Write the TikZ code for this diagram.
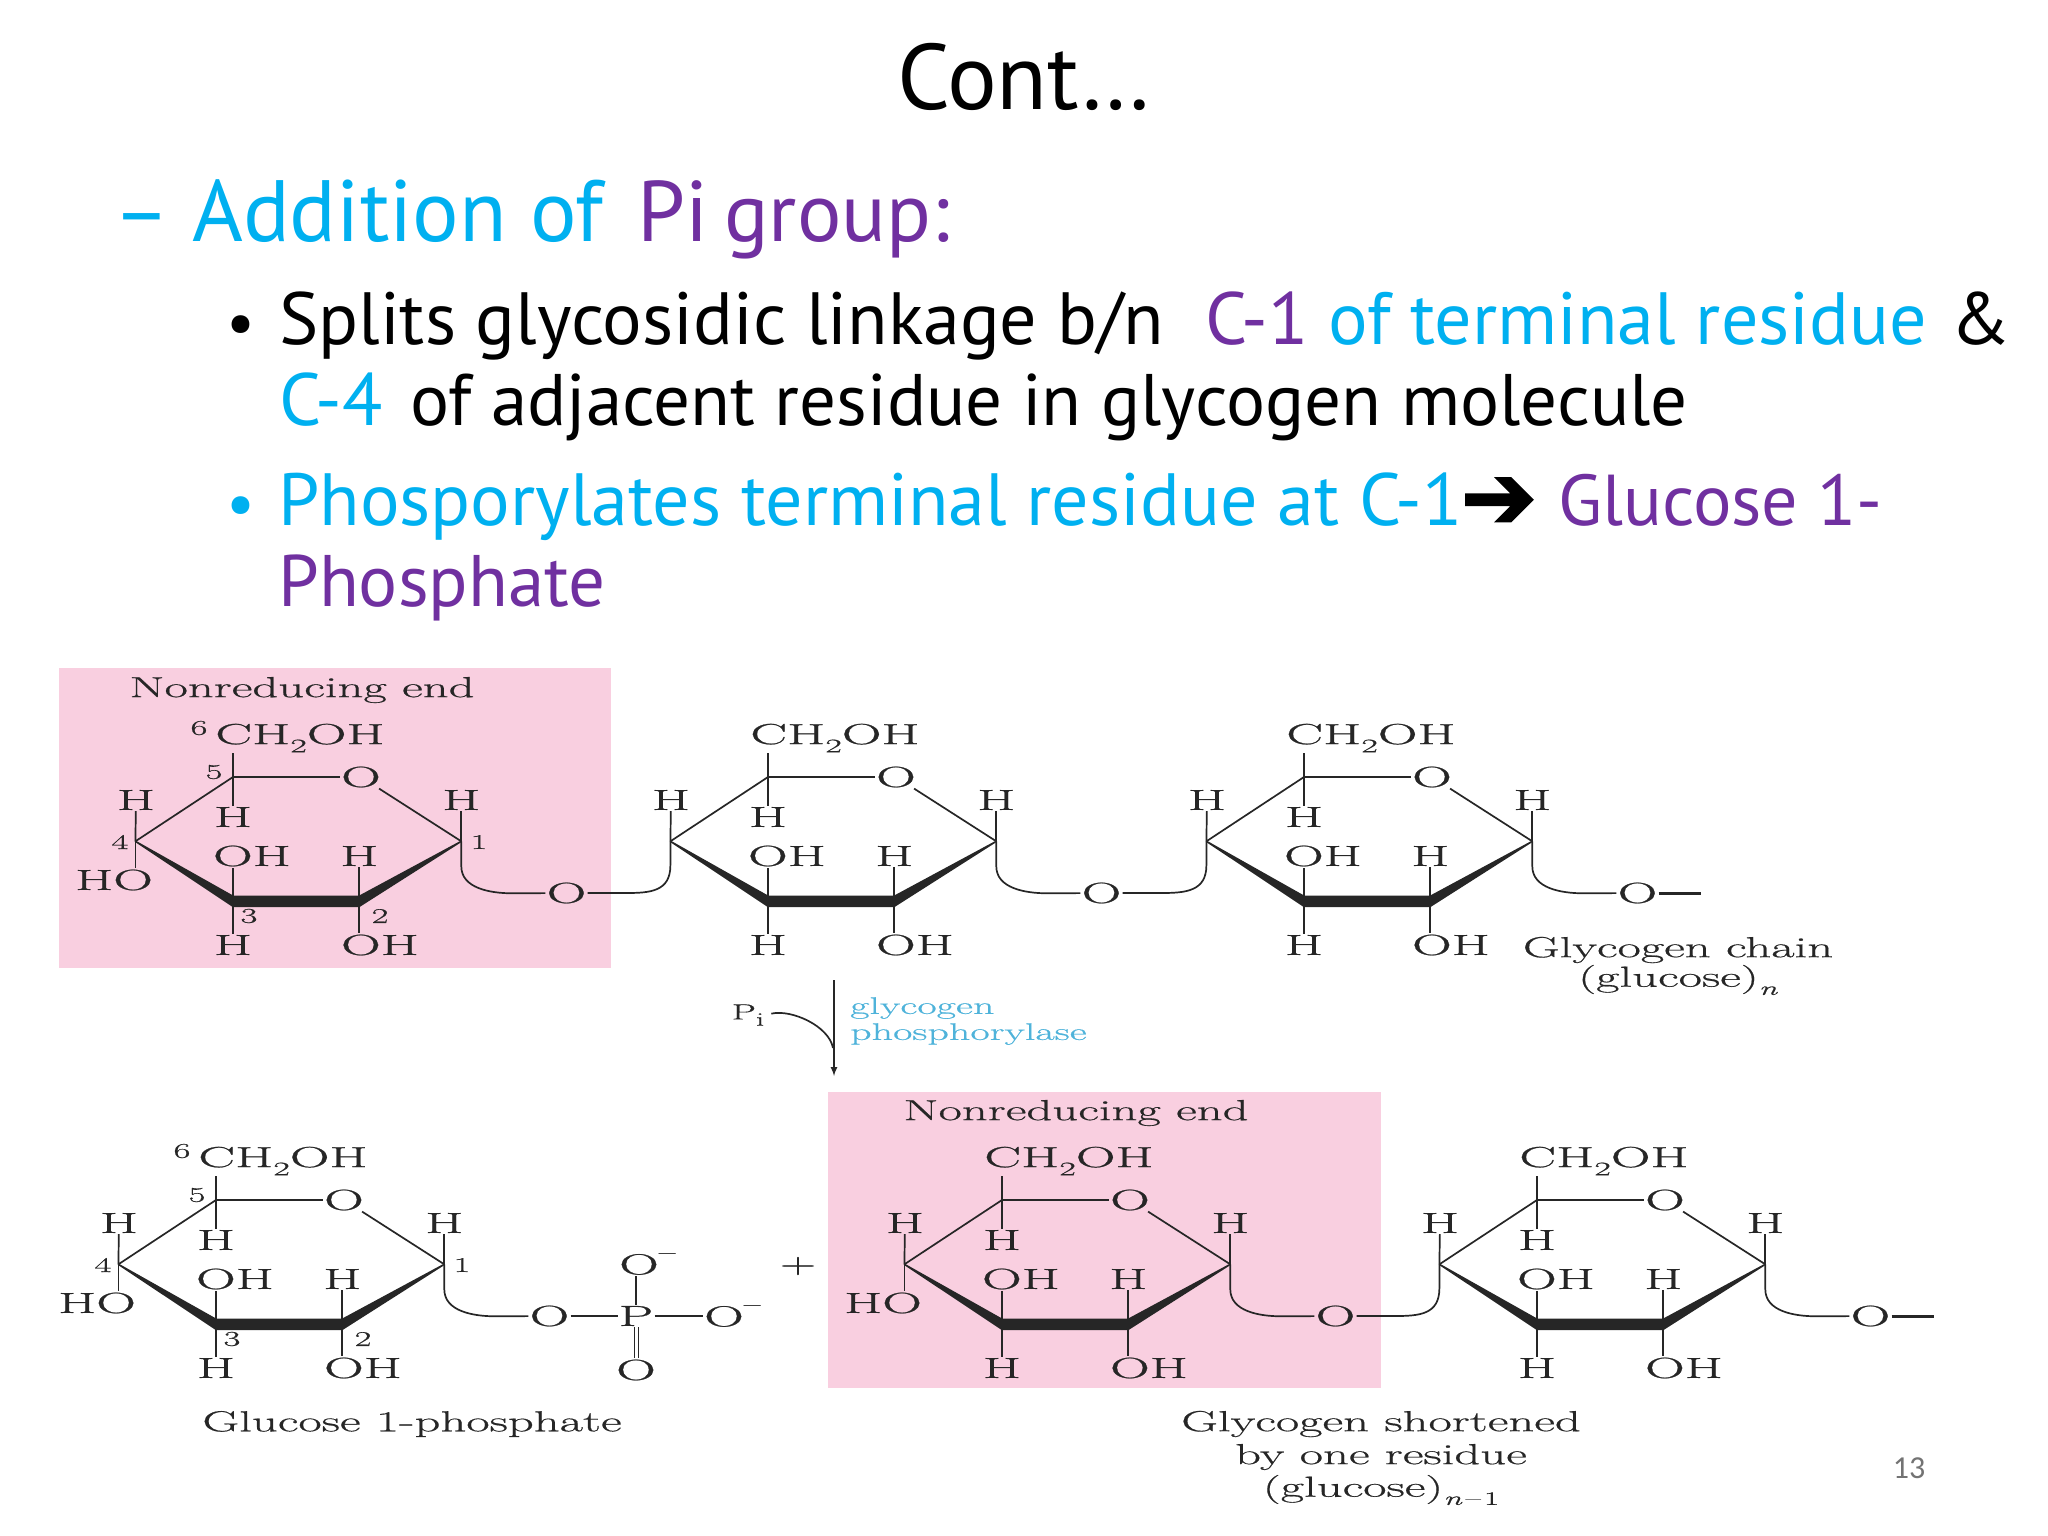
\documentclass[tikz,border=0pt]{standalone}
\usepackage{fontspec}
\setmainfont{PT Sans}
\newfontfamily\chemfont[FakeStretch=1.75,FakeBold=0.6]{Latin Modern Roman}
\newfontfamily\atomfont[FakeStretch=1.9,FakeBold=0.8]{Latin Modern Roman}
\newfontfamily\arrowfont[FakeBold=2.5]{DejaVu Sans}
\newfontfamily\numfont{Carlito}
\usepackage{xcolor}
\usetikzlibrary{calc}
\definecolor{SkyText}{HTML}{00B0F0}
\definecolor{PurpleText}{HTML}{7030A0}
\definecolor{PinkBox}{HTML}{F9CFE0}
\definecolor{EnzymeText}{HTML}{4FB3DA}
\newcommand{\lowtext}[1]{\raisebox{-0.28em}{\fontsize{19}{19}\selectfont #1}}
\newcommand{\hightext}[1]{\raisebox{0.55em}{\fontsize{19}{19}\selectfont #1}}
\tikzset{%Global config
	>=latex,
	%Styles
	Head/.style={
		anchor=base west,
		inner sep=0pt,
		font=\fontsize{74}{74}\selectfont,
	},
	Chem/.style={
		inner sep=1pt,
		text=black!85,
		font=\atomfont\fontsize{29}{29}\selectfont,
	},
	Caption/.style={
		Chem,
		font=\chemfont\fontsize{29}{29}\selectfont,
	},
	Num/.style={
		inner sep=0pt,
		text=black!85,
		font=\chemfont\fontsize{21}{21}\selectfont,
	},
	Bond/.style={
		line width=1.7pt,
		draw=black!85,
	},
	Box/.style={
		fill=PinkBox,
		draw=none,
	},
	ring/.pic={
		\coordinate (-c5) at (0,0);
		\coordinate (-c1) at (228.3,64.3);
		\coordinate (-c2) at (126.3,124.3);
		\coordinate (-c3) at (0,124.3);
		\coordinate (-c4) at (-97.6,64.3);
		\node[Chem] (-o5) at (128,0) {O};
		\node[Chem] (-ch) at (67,-39) {CH\lowtext{2}OH};
		\node[Chem] (-h4) at (-97,23) {H};
		\node[Chem] (-h5) at (0,40) {H};
		\node[Chem] (-h1) at (228.3,23) {H};
		\node[Chem] (-oh3) at (19,79) {OH};
		\node[Chem] (-h2) at (126.3,79) {H};
		\node[Chem] (-h3) at (0,168) {H};
		\node[Chem] (-oh2) at (147,168) {OH};
		\node[Chem] (-link) at (333.5,116) {O};
		\filldraw[black!85,line width=1.5pt,line join=round] (-c4) -- ([yshift=-5pt]-c3) -- ([yshift=-5pt]-c2) -- (-c1)
			-- ([yshift=5pt]-c2) -- ([yshift=5pt]-c3) -- cycle;
		\draw[Bond] (-c4) -- (-c5) -- (-o5) -- (-c1);
		\draw[Bond] (-c5) -- (-c5 |- -ch.south);
		\draw[Bond] (-c5) -- (-h5);
		\draw[Bond] (-c4) -- (-h4);
		\draw[Bond] (-c1) -- (-h1);
		\draw[Bond] (-c3) -- (-c3 |- -oh3.south);
		\draw[Bond] (-c3) -- (-h3);
		\draw[Bond] (-c2) -- (-h2);
		\draw[Bond] (-c2) -- (-c2 |- -oh2.north);
		\draw[Bond] (-c1) -- ++(0,25) .. controls +(0,22) and +(-22,0) .. ++(51,27) -- (-link);
	},
	ringend/.pic={
		\coordinate (-c4) at (-97.6,64.3);
		\node[Chem] (-ho) at (-119,103) {HO};
		\draw[Bond] (-c4) -- (-c4 |- -ho.north);
	},
	ringnumbers/.pic={
		\node[Num] (-n6) at (-34,-49) {6};
		\node[Num] (-n5) at (-19,-5) {5};
		\node[Num] (-n4) at (-113,65) {4};
		\node[Num] (-n1) at (246,65) {1};
		\node[Num] (-n3) at (16,139) {3};
		\node[Num] (-n2) at (147,139) {2};
	},
}
\begin{document}
\begin{tikzpicture}[x=1pt,y=-1pt]
	\useasboundingbox (0,0) rectangle (2048,1536);
	% Slide text
	\node[Head,font=\fontsize{93}{93}\selectfont] (title) at (897,110) {Cont…};
	\node[Head,text=SkyText,font=\fontsize{86}{86}\selectfont] (dash) at (113,241) {–};
	\node[Head,text=SkyText,font=\fontsize{87}{87}\selectfont] (addition) at (192,241) {Addition of};
	\node[Head,text=PurpleText,font=\fontsize{86}{86}\selectfont] (pi) at (637,241) {Pi};
	\node[Head,text=PurpleText,font=\fontsize{83}{83}\selectfont] (group) at (724,241) {group:};
	\node[Head,font=\fontsize{64}{64}\selectfont] (bulletA) at (226,344) {•};
	\node[Head] (splits) at (279,344) {Splits glycosidic linkage b/n};
	\node[Head,text=PurpleText] (cOne) at (1205,344) {C-1};
	\node[Head,text=SkyText] (terminal) at (1328,344) {of terminal residue};
	\node[Head] (amp) at (1950,344) {\&};
	\node[Head,text=SkyText] (cFour) at (279,425) {C-4};
	\node[Head,font=\fontsize{73}{73}\selectfont] (adjacent) at (410,425) {of adjacent residue in glycogen molecule};
	\node[Head,text=SkyText,font=\fontsize{64}{64}\selectfont] (bulletB) at (226,525) {•};
	\node[Head,text=SkyText] (phos) at (278,525) {Phosporylates terminal residue at C-1};
	\node[Head,font=\arrowfont\fontsize{90}{90}\selectfont] (yields) at (1461,528) {➔};
	\node[Head,text=PurpleText,font=\fontsize{72}{72}\selectfont] (glucose) at (1558,525) {Glucose 1-};
	\node[Head,text=PurpleText,font=\fontsize{73}{73}\selectfont] (phosphate) at (278,606) {Phosphate};
	% Pink boxes
	\fill[Box] (59,668) rectangle (611,968);
	\fill[Box] (828,1092) rectangle (1381,1388);
	\node[Caption] (endA) at (302,690) {Nonreducing end};
	\node[Caption] (endB) at (1076,1113) {Nonreducing end};
	% Glycogen chain
	\pic (A) at (233,777) {ring};
	\pic (Ah) at (233,777) {ringend};
	\pic (An) at (233,777) {ringnumbers};
	\pic (B) at (768,777) {ring};
	\pic (C) at (1304,777) {ring};
	\draw[Bond] (A-link) -- ++(60,0) .. controls +(24,0) and +(0,26) .. ($(B-c4)+(0,24)$) -- (B-c4);
	\draw[Bond] (B-link) -- ++(60,0) .. controls +(24,0) and +(0,26) .. ($(C-c4)+(0,24)$) -- (C-c4);
	\coordinate (tailA) at ($(C-link)+(63,0)$);
	\draw[Bond,line width=3pt] (C-link) -- (tailA);
	\node[Caption] (chainA) at (1678,950) {Glycogen chain};
	\node[Caption] (chainB) at (1678,980) {(glucose)\lowtext{\textit{n}}};
	% Reaction arrow
	\coordinate (arrowTop) at (834,980);
	\coordinate (arrowEnd) at (834,1076);
	\coordinate (arrowJoin) at (833,1048);
	\draw[Bond,line width=2pt,->] (arrowTop) -- (arrowEnd);
	\node[Caption,font=\chemfont\fontsize{22}{22}\selectfont] (pOne) at (748,1015) {P\lowtext{i}};
	\draw[Bond,shorten <=6pt] (pOne.east) .. controls +(26,-6) and +(-4,-22) .. (arrowJoin);
	\node[Caption,anchor=west,text=EnzymeText,font=\chemfont\fontsize{24}{24}\selectfont] (enzymeA) at (849,1008) {glycogen};
	\node[Caption,anchor=west,text=EnzymeText,font=\chemfont\fontsize{24}{24}\selectfont] (enzymeB) at (849,1034) {phosphorylase};
	% Products
	\pic (D) at (216,1200) {ring};
	\pic (Dh) at (216,1200) {ringend};
	\pic (Dn) at (216,1200) {ringnumbers};
	\node[Chem] (pAtom) at (636,1316) {P};
	\node[Chem,anchor=west] (oTop) at (618,1264) {O\hightext{–}};
	\node[Chem,anchor=west] (oRight) at (703,1316) {O\hightext{–}};
	\node[Chem] (oBottom) at (636,1370) {O};
	\draw[Bond] (D-link) -- (pAtom);
	\draw[Bond] (pAtom) -- (oRight);
	\draw[Bond] (pAtom) -- (pAtom |- oTop.south);
	\draw[Bond,double,double distance=3pt,line width=1pt] (pAtom) -- (oBottom);
	\node[Caption] (plus) at (798,1266) {+};
	\node[Caption] (productA) at (412,1424) {Glucose 1-phosphate};
	\pic (E) at (1002,1200) {ring};
	\pic (Eh) at (1002,1200) {ringend};
	\pic (F) at (1537,1200) {ring};
	\draw[Bond] (E-link) -- ++(60,0) .. controls +(24,0) and +(0,26) .. ($(F-c4)+(0,24)$) -- (F-c4);
	\coordinate (tailB) at ($(F-link)+(63,0)$);
	\draw[Bond,line width=3pt] (F-link) -- (tailB);
	\node[Caption] (shortA) at (1381,1424) {Glycogen shortened};
	\node[Caption] (shortB) at (1381,1457) {by one residue};
	\node[Caption] (shortC) at (1381,1490) {(glucose)\lowtext{\textit{n}\,–\,1}};
	\node[inner sep=0pt,text=black!55,font=\numfont\fontsize{32}{32}\selectfont] (pageNum) at (1909,1468) {13};
\end{tikzpicture}
\end{document}
